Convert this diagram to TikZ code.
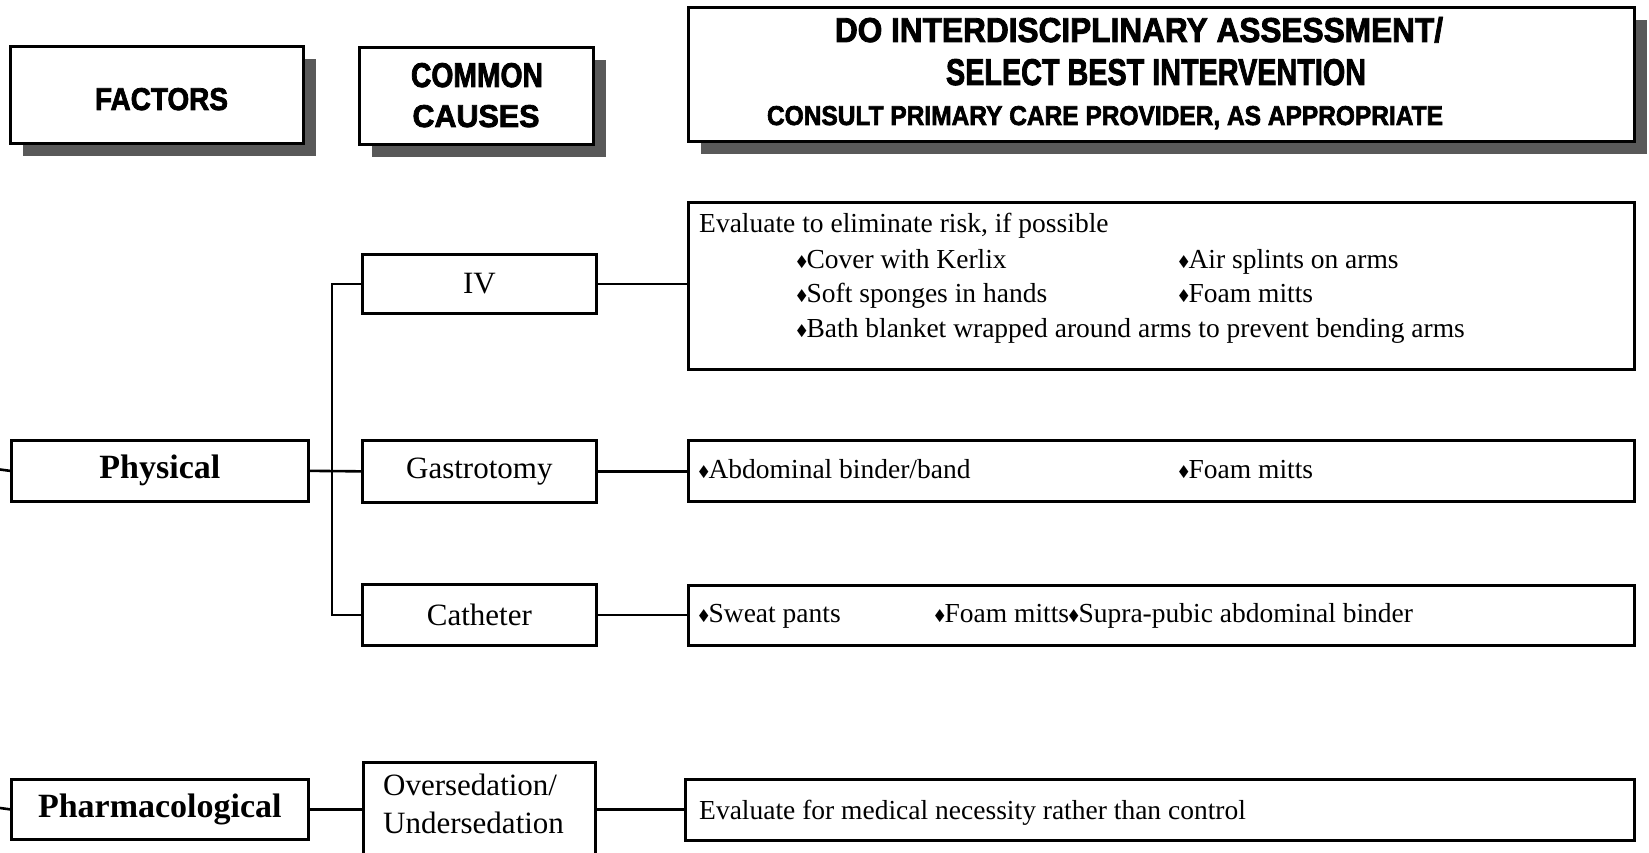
\documentclass[tikz,border=0pt]{standalone}
\usepackage{graphicx}
\usepackage{fontspec}
\usetikzlibrary{shadows}
\setmainfont{Liberation Serif}
\newfontfamily\hdrfont{Liberation Sans}[BoldFeatures={FakeBold=2.5}]
\newfontfamily\symfont{DejaVu Sans}
\newcommand\bul{{\symfont\fontsize{17}{17}\selectfont\raisebox{1.5pt}{\scalebox{0.72}[1]{◆}}}}
\newcommand\hdr[3]{\resizebox{#1pt}{#2pt}{\hdrfont\bfseries #3}}
\definecolor{shadowgray}{HTML}{595959}
\begin{document}
\begin{tikzpicture}[x=1pt,y=-1pt,
  box/.style={draw, line width=2.7pt, fill=white, inner sep=0pt, anchor=north west},
  hbox/.style={box, line width=3pt,
    drop shadow={shadow xshift=12pt, shadow yshift=-13pt, fill=shadowgray, opacity=1}},
  conn/.style={line width=2.6pt},
  cause/.style={font=\fontsize{31}{38}\selectfont},
  factor/.style={font=\fontsize{34}{40}\selectfont\bfseries},
  evtext/.style={anchor=base west, inner sep=0pt, font=\fontsize{27.5}{34}\selectfont},
  htext/.style={anchor=base, inner sep=0pt}]
\useasboundingbox (0,0) rectangle (1649,853);
\clip (0,0) rectangle (1649,853);

% header boxes
\node[hbox, minimum width=293pt, minimum height=97pt] (fac) at (9,45) {};
\node[hbox, minimum width=234pt, minimum height=97pt] (cc) at (358,46) {};
\node[hbox, minimum width=946pt, minimum height=134pt] (do) at (687,6) {};

\node[htext] (tfac) at (161.5,110) {\hdr{133}{22}{FACTORS}};
\node[htext] (tcc1) at (477,87) {\hdr{132}{24}{COMMON}};
\node[htext] (tcc2) at (476,127) {\hdr{127}{22}{CAUSES}};
\node[htext] (tdo1) at (1139,42) {\hdr{608}{25}{DO INTERDISCIPLINARY ASSESSMENT/}};
\node[htext] (tdo2) at (1156,85) {\hdr{420}{26}{SELECT BEST INTERVENTION}};
\node[htext] (tdo3) at (1105,125) {\hdr{676}{19}{CONSULT PRIMARY CARE PROVIDER, AS APPROPRIATE}};

% factor boxes
\node[box, factor, minimum width=297pt, minimum height=61pt] (phys) at (10,439) {Physical};
\node[box, factor, minimum width=297pt, minimum height=60pt] (pharm) at (10,778) {Pharmacological};

% cause boxes
\node[box, cause, minimum width=234pt, minimum height=59pt] (iv) at (361,253) {IV};
\node[box, cause, minimum width=234pt, minimum height=62pt] (gas) at (361,439) {Gastrotomy};
\node[box, cause, minimum width=234pt, minimum height=61pt] (cat) at (361,583) {Catheter};
\node[box, minimum width=232pt, minimum height=130pt] (over) at (362,761) {};
\node[anchor=base west, inner sep=0pt, align=left, font=\fontsize{31}{38}\selectfont] (tover) at (383,833) {Oversedation/\\Undersedation};

% intervention boxes
\node[box, minimum width=946pt, minimum height=167pt] (ive) at (687,201) {};
\node[box, minimum width=946pt, minimum height=61pt] (gase) at (687,439) {};
\node[box, minimum width=946pt, minimum height=60pt] (cate) at (687,584) {};
\node[box, minimum width=949pt, minimum height=61pt] (mede) at (684,778) {};

\node[evtext] (e1) at (699,233) {Evaluate to eliminate risk, if possible};
\node[evtext] (e2) at (797,268) {\bul Cover with Kerlix};
\node[evtext] (e3) at (1179,268) {\bul Air splints on arms};
\node[evtext] (e4) at (797,302) {\bul Soft sponges in hands};
\node[evtext] (e5) at (1179,302) {\bul Foam mitts};
\node[evtext] (e6) at (797,337) {\bul Bath blanket wrapped around arms to prevent bending arms};

\node[evtext] (g1) at (699,478) {\bul Abdominal binder/band};
\node[evtext] (g2) at (1179,478) {\bul Foam mitts};

\node[evtext] (c1) at (699,622) {\bul Sweat pants};
\node[evtext] (c2) at (935,622) {\bul Foam mitts\bul Supra-pubic abdominal binder};

\node[evtext] (m1) at (699,819) {Evaluate for medical necessity rather than control};

% connectors
\coordinate (l1) at (0,469.5);
\coordinate (l2) at (0,808);
\draw[conn] (l1) -- (phys.west);
\draw[conn] (l2) -- (pharm.west);
\draw[conn] (phys.east) -- (gas.west);
\draw[conn] (iv.west) -- ++(-29,0) |- (cat.west);
\draw[conn] (iv.east) -- (iv.east -| ive.west);
\draw[conn] (gas.east) -- (gas.east -| gase.west);
\draw[conn] (cat.east) -- (cat.east -| cate.west);
\draw[conn] (pharm.east) -- (pharm.east -| over.west);
\draw[conn] (pharm.east -| over.east) -- (pharm.east -| mede.west);
\end{tikzpicture}
\end{document}
